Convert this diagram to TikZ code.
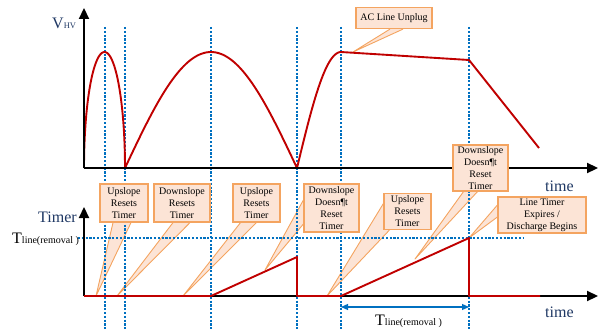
\documentclass[tikz,border=0pt]{standalone}
\usepackage{fontspec}
\setmainfont{Liberation Serif}
\usetikzlibrary{arrows.meta,calc}
\definecolor{hvred}{RGB}{192,0,0}
\definecolor{calloutline}{RGB}{244,164,96}
\definecolor{calloutfill}{RGB}{252,228,214}
\definecolor{guideblue}{RGB}{0,112,192}
\definecolor{labelblue}{RGB}{31,56,100}
\pgfdeclarelayer{wedges}
\pgfdeclarelayer{front}
\pgfsetlayers{wedges,main,front}
\begin{document}
\begin{tikzpicture}[x=1pt,y=-1pt,
  axis/.style={line width=2.2pt,-{Triangle[length=11pt,width=10pt]}},
  guide/.style={guideblue,line width=1.1pt,dash pattern=on 2.2pt off 1.6pt},
  signal/.style={hvred,line width=1.9pt,line join=round},
  callout/.style={draw=calloutline,fill=calloutfill,line width=1.2pt,align=center,inner sep=1pt,font=\fontsize{10}{12}\selectfont},
  wedge/.style={draw=calloutline,fill=calloutfill,line width=0.9pt,line join=round},
  axislabel/.style={labelblue,font=\fontsize{16}{18}\selectfont,inner sep=0pt,anchor=base west},
  blacklabel/.style={font=\fontsize{16}{18}\selectfont,inner sep=0pt,anchor=base west},
  span/.style={guideblue,line width=1.2pt,{Triangle[length=7pt,width=6pt]}-{Triangle[length=7pt,width=6pt]}}
]
\useasboundingbox (0,0) rectangle (599,329);

% guides
\foreach \gx in {105,125,211,297,341,469}
  \draw[guide] (\gx,27) -- (\gx,329);
\draw[guide] (78,238) -- (523,238);

% coordinates
\coordinate (o1) at (84,168);
\coordinate (y1) at (84,8);
\coordinate (x1) at (598,168);
\coordinate (o2) at (84,296);
\coordinate (y2) at (84,207);
\coordinate (x2) at (598,296);
\coordinate (pk) at (341,52);
\coordinate (kn) at (469,60);
\coordinate (en) at (539,148);

% top signal
\draw[signal] plot[domain=0:180,samples=60] ({84+20.5*(1-cos(\x))},{168-116*sin(\x)});
\draw[signal] plot[domain=0:180,samples=80] ({125+0.95556*\x},{168-116*sin(\x)});
\draw[signal] plot[domain=0:90,samples=40] ({297+0.48889*\x},{168-116*sin(\x)});
\draw[signal] (pk) -- (kn) -- (en);

% axes
\draw[axis] (o1) -- (y1);
\draw[axis] (o1) -- (x1);
\draw[axis] (o2) -- (y2);
\draw[axis] (o2) -- (x2);

% timer signal
\coordinate (r0) at (84,296);
\coordinate (r1) at (211,296);
\coordinate (r2) at (297,257);
\coordinate (r3) at (297,296);
\coordinate (r4) at (341,296);
\coordinate (r5) at (469,238);
\coordinate (r6) at (469,296);
\coordinate (r7) at (540,296);
\draw[signal] (r0) -- (r1) -- (r2) -- (r3) -- (r4) -- (r5) -- (r6) -- (r7);

% span arrow
\coordinate (d1) at (341,307);
\coordinate (d2) at (469,307);
\draw[span] (d1) -- (d2);

% labels
\node[axislabel] (vhv) at (52,29) {V{\fontsize{8.5}{10}\selectfont HV}};
\node[axislabel] (timerlbl) at (38,222) {Timer};
\node[blacklabel] (tl1) at (12,243) {T{\fontsize{10}{12}\selectfont line(removal )}};
\node[blacklabel] (tl2) at (375,325) {T{\fontsize{10}{12}\selectfont line(removal )}};
\node[axislabel] (time1) at (545,191) {time};
\node[axislabel] (time2) at (545,317) {time};

% callout boxes
\begin{pgfonlayer}{front}
\node[callout,minimum width=48pt,minimum height=38pt] (c1) at (124,203) {Upslope\\Resets\\Timer};
\node[callout,minimum width=56pt,minimum height=38pt] (c2) at (182,203) {Downslope\\Resets\\Timer};
\node[callout,minimum width=47pt,minimum height=38pt] (c3) at (256.5,203) {Upslope\\Resets\\Timer};
\node[callout,minimum width=55pt,minimum height=48pt] (c4) at (331.5,208) {Downslope\\Doesn¶t\\Reset\\Timer};
\node[callout,minimum width=47pt,minimum height=36pt] (c5) at (407.5,211.5) {Upslope\\Resets\\Timer};
\node[callout,minimum width=55pt,minimum height=46pt] (c6) at (480.5,168) {Downslope\\Doesn¶t\\Reset\\Timer};
\node[callout,minimum width=88pt,minimum height=36pt] (c7) at (542,215) {Line Timer\\Expires /\\Discharge Begins};
\node[callout,minimum width=76pt,minimum height=21pt] (c8) at (394,18) {AC Line Unplug};
\end{pgfonlayer}

% callout tips
\coordinate (t1) at (96,296);
\coordinate (t2) at (117,296);
\coordinate (t3) at (183,296);
\coordinate (t4) at (265,270);
\coordinate (t5) at (327,296);
\coordinate (t6) at (415,259);
\coordinate (t7) at (469,238);
\coordinate (t8) at (353,52);

\begin{pgfonlayer}{wedges}
\path[wedge] ($(c1.south)+(-11,0)$) -- (t1) -- ($(c1.south)+(7,0)$);
\path[wedge] ($(c2.south)+(-9,0)$) -- (t2) -- ($(c2.south)+(8,0)$);
\path[wedge] ($(c3.south)+(-16,0)$) -- (t3) -- ($(c3.south)+(0,0)$);
\path[wedge] ($(c4.west)+(0,-8)$) -- (t4) -- ($(c4.west)+(0,16)$);
\path[wedge] ($(c5.west)+(0,-8)$) -- (t5) -- ($(c5.south west)+(6,0)$);
\path[wedge] ($(c6.south)+(-17,0)$) -- (t6) -- ($(c6.south)+(-3,0)$);
\path[wedge] ($(c7.west)+(0,-10)$) -- (t7) -- ($(c7.west)+(0,2)$);
\path[wedge] ($(c8.south)+(-4,0)$) -- (t8) -- ($(c8.south)+(9,0)$);
\end{pgfonlayer}
\end{tikzpicture}
\end{document}
